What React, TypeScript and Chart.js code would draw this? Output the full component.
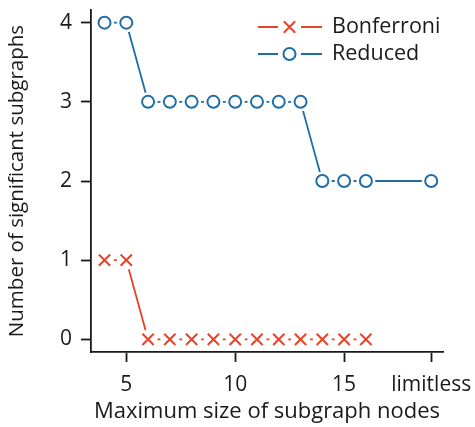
import React, { useEffect, useRef } from "react";
import { Chart, registerables } from "chart.js";

Chart.register(...registerables);

const reducedX = [4, 5, 6, 7, 8, 9, 10, 11, 12, 13, 14, 15, 16, 19];
const reducedY = [4, 4, 3, 3, 3, 3, 3, 3, 3, 3, 2, 2, 2, 2];
const bonfX = [4, 5, 6, 7, 8, 9, 10, 11, 12, 13, 14, 15, 16];
const bonfY = [1, 1, 0, 0, 0, 0, 0, 0, 0, 0, 0, 0, 0];
const xTickValues = [5, 10, 15, 19];
const xTickLabels = ["5", "10", "15", "limitless"];
const yTickValues = [0, 1, 2, 3, 4];
const seriesNames = ["Bonferroni", "Reduced"];

const RED = "#E8432A";
const BLUE = "#1D6EA8";
const TEXT = "#1a1a1a";
const FONT = "'Open Sans', sans-serif";

const pts = (xs: number[], ys: number[]) => xs.map((x, i) => ({ x, y: ys[i] }));

const legendPlugin = {
  id: "customLegend",
  afterDraw(chart: any) {
    const ctx = chart.ctx as CanvasRenderingContext2D;
    const rows = [
      { name: seriesNames[0], color: RED, style: "cross", y: 27 },
      { name: seriesNames[1], color: BLUE, style: "circle", y: 54 },
    ];
    ctx.save();
    for (const r of rows) {
      ctx.strokeStyle = r.color;
      ctx.lineWidth = 1.8;
      ctx.beginPath();
      ctx.moveTo(258, r.y);
      ctx.lineTo(278, r.y);
      ctx.moveTo(301, r.y);
      ctx.lineTo(322, r.y);
      ctx.stroke();
      ctx.lineWidth = 2;
      ctx.beginPath();
      if (r.style === "circle") {
        ctx.arc(289.5, r.y, 6, 0, Math.PI * 2);
      } else {
        const s = 5.7;
        ctx.moveTo(289.5 - s, r.y - s);
        ctx.lineTo(289.5 + s, r.y + s);
        ctx.moveTo(289.5 + s, r.y - s);
        ctx.lineTo(289.5 - s, r.y + s);
      }
      ctx.stroke();
      ctx.fillStyle = TEXT;
      ctx.font = `21.5px ${FONT}`;
      ctx.textBaseline = "middle";
      ctx.textAlign = "left";
      ctx.fillText(r.name, 332, r.y);
    }
    ctx.restore();
  },
};

export default function App() {
  const ref = useRef<HTMLCanvasElement | null>(null);
  useEffect(() => {
    document.body.style.margin = "0";
    const canvas = ref.current!;
    const chart = new Chart(canvas, {
      type: "line",
      data: {
        datasets: [
          {
            label: "Reduced markers",
            data: pts(reducedX, reducedY),
            showLine: false,
            pointStyle: "circle",
            pointRadius: 6,
            pointBorderWidth: 2,
            pointBorderColor: BLUE,
            pointBackgroundColor: "#ffffff",
            order: 0,
          },
          {
            label: "Bonferroni markers",
            data: pts(bonfX, bonfY),
            showLine: false,
            pointStyle: "crossRot",
            pointRadius: 8,
            pointBorderWidth: 2,
            pointBorderColor: RED,
            pointBackgroundColor: RED,
            order: 0,
          },
          {
            label: "Reduced halo",
            data: pts(reducedX, reducedY),
            showLine: false,
            pointRadius: 9.5,
            pointBorderWidth: 0,
            pointBorderColor: "#ffffff",
            pointBackgroundColor: "#ffffff",
            order: 1,
          },
          {
            label: "Bonferroni halo",
            data: pts(bonfX, bonfY),
            showLine: false,
            pointRadius: 9.5,
            pointBorderWidth: 0,
            pointBorderColor: "#ffffff",
            pointBackgroundColor: "#ffffff",
            order: 1,
          },
          {
            label: "Reduced",
            data: pts(reducedX, reducedY),
            borderColor: BLUE,
            borderWidth: 1.8,
            pointRadius: 0,
            tension: 0,
            order: 2,
          },
          {
            label: "Bonferroni",
            data: pts(bonfX, bonfY),
            borderColor: RED,
            borderWidth: 1.8,
            pointRadius: 0,
            tension: 0,
            order: 2,
          },
        ],
      },
      options: {
        animation: false,
        responsive: false,
        devicePixelRatio: 1,
        layout: { padding: { top: 8, right: 32, left: 0, bottom: 0 } },
        plugins: { legend: { display: false }, tooltip: { enabled: false } },
        scales: {
          x: {
            type: "linear",
            min: 3.38,
            max: 19.54,
            afterBuildTicks: (s: any) => {
              s.ticks = xTickValues.map((v) => ({ value: v }));
            },
            afterFit: (s: any) => {
              s.height = 75;
              s.paddingLeft = 0;
              s.paddingRight = 0;
            },
            ticks: {
              autoSkip: false,
              maxRotation: 0,
              padding: 10,
              color: TEXT,
              font: { family: FONT, size: 21 },
              callback: (v: any) => {
                const i = xTickValues.indexOf(Number(v));
                return i >= 0 ? xTickLabels[i] : "";
              },
            },
            grid: {
              drawOnChartArea: false,
              drawTicks: true,
              tickLength: 10,
              tickWidth: 1.8,
              tickColor: TEXT,
            },
            border: { display: true, color: TEXT, width: 1.8 },
            title: {
              display: true,
              text: "Maximum size of subgraph nodes",
              color: TEXT,
              font: { family: FONT, size: 22 },
              padding: { top: 0, bottom: 2 },
            },
          },
          y: {
            type: "linear",
            min: -0.16,
            max: 4.16,
            afterBuildTicks: (s: any) => {
              s.ticks = yTickValues.map((v) => ({ value: v }));
            },
            afterFit: (s: any) => {
              s.width = 91;
              s.paddingTop = 0;
              s.paddingBottom = 0;
            },
            ticks: {
              padding: 9,
              color: TEXT,
              font: { family: FONT, size: 21 },
              callback: (v: any) => String(v),
            },
            grid: {
              drawOnChartArea: false,
              drawTicks: true,
              tickLength: 10,
              tickWidth: 1.8,
              tickColor: TEXT,
            },
            border: { display: true, color: TEXT, width: 1.8 },
            title: {
              display: true,
              text: "Number of significant subgraphs",
              color: TEXT,
              font: { family: FONT, size: 20.5 },
              padding: { top: 5, bottom: 0 },
            },
          },
        },
      },
      plugins: [legendPlugin],
    } as any);
    return () => chart.destroy();
  }, []);
  return (
    <div style={{ width: 475, height: 427 }}>
      <canvas ref={ref} width={475} height={427} />
    </div>
  );
}
